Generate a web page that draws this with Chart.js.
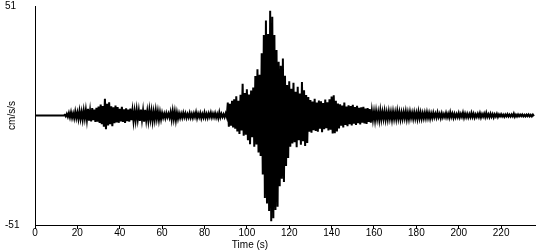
<!DOCTYPE html>
<html>
<head>
<meta charset="utf-8">
<script src="https://cdn.jsdelivr.net/npm/chart.js@4.4.1/dist/chart.umd.min.js"></script>
<style>
  html, body { margin: 0; padding: 0; background: #ffffff; }
  #wrap { width: 550px; height: 250px; }
</style>
</head>
<body>
<div id="wrap"><canvas id="c" width="550" height="250"></canvas></div>
<script>
// ---- data ----
const xTitle = 'Time (s)';
const yTitle = 'cm/s/s';
const yLimit = 51;                 // axis range is ±51 cm/s/s
const timeMax = 236;               // end of the record (s)
const timeTicks = [0, 20, 40, 60, 80, 100, 120, 140, 160, 180, 200, 220];
const yTicks = [-51, 51];
// quiet lead-in before the first arrivals
const leadTimes = [0, 13.5];
const leadValues = [0, 0];
// sampled trace: alternating peaks every 0.5 s starting at 14 s
const traceStart = 14;
const traceStep = 0.5;
const accel = [
  0.3,-0.4,0.8,-0.6,1.2,-0.9,1.5,-1.1,1.0,-1.3,
  1.8,-1.2,1.4,-1.6,2.1,-1.5,1.7,-1.9,2.3,-1.4,
  2.6,-2.0,3.1,-2.4,2.2,-2.8,3.4,-2.2,2.7,-3.0,
  3.6,-2.9,4.2,-3.5,5.1,-4.0,4.4,-5.2,7.8,-6.4,
  5.5,-4.6,6.1,-4.0,4.3,-5.0,3.8,-3.6,4.6,-3.2,
  3.9,-3.4,3.1,-2.8,4.0,-3.0,2.9,-3.5,3.3,-2.6,
  2.7,-2.9,3.2,-2.2,2.4,-2.7,2.0,-2.3,2.6,-1.9,
  2.2,-2.5,2.8,-2.0,2.3,-2.9,2.6,-2.2,1.9,-2.4,
  2.5,-1.8,2.1,-2.6,1.7,-2.0,2.4,-1.6,1.9,-2.1,
  1.5,-1.7,1.2,-1.0,0.9,-1.2,1.1,-0.8,0.9,-1.0,
  1.6,-1.9,2.1,-1.7,1.8,-2.2,1.4,-1.5,1.0,-1.1,
  0.9,-1.0,1.3,-0.8,1.0,-1.1,0.7,-0.9,1.2,-1.0,
  0.8,-1.1,1.0,-0.7,1.5,-1.2,0.9,-0.8,1.1,-1.3,
  0.7,-0.9,1.4,-1.0,0.8,-1.1,1.0,-0.7,1.3,-0.9,
  0.9,-0.8,1.1,-1.0,0.7,-1.2,1.5,-0.9,0.8,-0.7,
  0.6,-0.8,0.9,-0.7,6.0,-5.2,5.5,-4.8,6.8,-5.6,
  7.5,-6.2,8.9,-7.4,6.8,-8.6,9.6,-7.0,14.8,-9.4,
  10.5,-9.0,12.2,-11.5,9.8,-13.4,11.6,-10.1,13.0,-14.6,
  18.4,-13.5,21.5,-17.2,19.0,-18.8,29.0,-27.5,37.5,-38.4,
  44.2,-41.0,38.0,-44.5,48.8,-49.3,46.0,-47.8,37.5,-44.0,
  30.5,-42.5,25.0,-33.0,23.2,-29.5,26.5,-31.0,18.5,-23.5,
  14.2,-19.8,16.0,-14.5,12.5,-13.0,15.2,-12.4,11.0,-14.8,
  13.4,-11.5,10.2,-13.6,15.6,-12.0,11.8,-14.2,9.5,-12.8,
  8.6,-7.6,7.2,-8.0,6.5,-6.8,7.8,-7.2,6.0,-7.5,
  7.0,-6.2,6.6,-7.8,5.8,-6.4,7.4,-5.9,6.2,-7.0,
  7.6,-6.6,8.8,-8.4,9.4,-8.2,6.8,-7.4,5.6,-6.0,
  5.2,-4.8,4.6,-5.6,6.0,-4.4,4.2,-5.0,4.8,-4.0,
  4.4,-4.6,5.0,-3.8,3.9,-4.4,4.5,-3.6,3.6,-4.2,
  3.8,-3.4,4.0,-3.7,3.2,-3.9,3.5,-3.0,3.0,-3.3,
  2.2,-2.0,1.8,-2.3,2.0,-1.7,1.6,-2.1,2.3,-1.8,
  1.7,-1.6,2.0,-1.9,1.5,-1.8,1.9,-1.5,1.6,-2.0,
  1.8,-1.6,1.5,-1.7,2.1,-1.4,1.6,-1.8,1.4,-1.5,
  1.6,-1.3,1.9,-1.7,1.4,-1.6,1.7,-1.2,1.3,-1.5,
  1.5,-1.4,1.2,-1.6,1.8,-1.3,1.4,-1.5,1.1,-1.3,
  1.3,-1.2,1.5,-1.1,1.2,-1.4,1.0,-1.1,1.3,-0.9,
  0.9,-1.0,1.4,-0.8,0.8,-1.2,1.0,-0.9,0.7,-0.8,
  1.2,-0.9,0.8,-1.0,1.5,-0.7,0.9,-1.1,0.8,-0.9,
  0.7,-0.8,1.1,-0.9,0.8,-0.7,1.3,-1.0,0.9,-0.8,
  0.8,-0.9,0.7,-0.8,1.2,-0.7,0.9,-1.0,0.6,-0.7,
  0.8,-0.7,1.1,-0.9,0.7,-0.6,0.9,-0.8,1.2,-0.7,
  0.6,-0.8,0.9,-0.6,0.7,-0.9,0.6,-0.5,0.8,-0.7,
  0.5,-0.4,0.6,-0.5,0.4,-0.6,0.5,-0.4,0.6,-0.5,
  0.4,-0.5,0.5,-0.4,0.9,-0.6,0.4,-0.5,0.5,-0.4,
  0.4,-0.3,0.5,-0.4,0.3,-0.4,0.4,-0.3,0.5,-0.4,
  0.3,-0.4,0.4,-0.3
];

// ---- build the point table for the library ----
const points = [];
leadTimes.forEach((t, i) => points.push({ x: t, y: leadValues[i] }));
accel.forEach((v, i) => points.push({ x: traceStart + i * traceStep, y: v }));

const FONT = 'Arial, "Liberation Sans", sans-serif';

const xTitlePlugin = {
  id: 'xTitlePlugin',
  afterDraw(chart) {
    const ctx = chart.ctx;
    ctx.save();
    ctx.font = '10px ' + FONT;
    ctx.fillStyle = '#000';
    ctx.textAlign = 'center';
    ctx.textBaseline = 'middle';
    ctx.fillText(xTitle, 250, 245.5);
    ctx.restore();
  }
};

new Chart(document.getElementById('c'), {
  type: 'line',
  data: {
    datasets: [{
      data: points,
      borderColor: '#000000',
      borderWidth: 2,
      borderJoinStyle: 'miter',
      pointRadius: 0,
      fill: false,
      tension: 0
    }]
  },
  options: {
    responsive: false,
    animation: false,
    events: [],
    layout: { padding: { left: 5, right: 15, top: 5, bottom: 0 } },
    plugins: { legend: { display: false }, tooltip: { enabled: false }, title: { display: false } },
    scales: {
      x: {
        type: 'linear',
        min: 0,
        max: timeMax,
        afterBuildTicks: (axis) => { axis.ticks = timeTicks.map(v => ({ value: v })); },
        afterFit: (axis) => { axis.height = 25; },
        grid: { display: true, drawOnChartArea: false, drawTicks: true, tickLength: 4, color: '#000', lineWidth: 1 },
        border: { display: true, color: '#000', width: 1 },
        ticks: { color: '#000', font: { family: FONT, size: 10 }, padding: -2, maxRotation: 0, autoSkip: false },
        title: { display: false }
      },
      y: {
        type: 'linear',
        min: -yLimit,
        max: yLimit,
        afterBuildTicks: (axis) => { axis.ticks = yTicks.map(v => ({ value: v })); },
        afterFit: (axis) => { axis.width = 30; },
        grid: { display: true, drawOnChartArea: false, drawTicks: false, color: '#000' },
        border: { display: true, color: '#000', width: 1 },
        ticks: { color: '#000', font: { family: FONT, size: 10 }, crossAlign: 'far', padding: 0, autoSkip: false },
        title: { display: true, text: yTitle, color: '#000', font: { family: FONT, size: 10 }, padding: { top: 1.5, bottom: 0 } }
      }
    }
  },
  plugins: [xTitlePlugin]
});
</script>
</body>
</html>
